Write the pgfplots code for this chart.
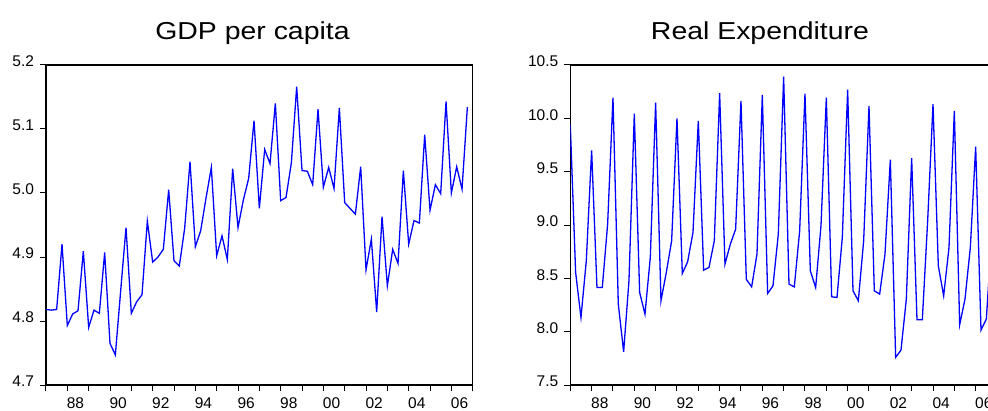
\documentclass[border=0pt]{standalone}
\usepackage{pgfplots}
\pgfplotsset{compat=1.18}
\usepackage{pgfplotstable}
\usepackage{fontspec}
\setmainfont{Liberation Sans}

\pgfplotstableread{
i v
0 4.818
1 4.817
2 4.818
3 4.920
4 4.793
5 4.811
6 4.816
7 4.909
8 4.790
9 4.817
10 4.812
11 4.907
12 4.765
13 4.747
14 4.847
15 4.946
16 4.812
17 4.830
18 4.841
19 4.956
20 4.892
21 4.900
22 4.912
23 5.005
24 4.894
25 4.886
26 4.945
27 5.049
28 4.916
29 4.941
30 4.992
31 5.040
32 4.902
33 4.933
34 4.896
35 5.038
36 4.946
37 4.989
38 5.023
39 5.113
40 4.976
41 5.068
42 5.046
43 5.140
44 4.988
45 4.993
46 5.047
47 5.166
48 5.035
49 5.034
50 5.013
51 5.131
52 5.009
53 5.040
54 5.007
55 5.133
56 4.985
57 4.976
58 4.967
59 5.041
60 4.880
61 4.928
62 4.814
63 4.963
64 4.855
65 4.912
66 4.890
67 5.035
68 4.920
69 4.957
70 4.953
71 5.091
72 4.973
73 5.013
74 4.999
75 5.143
76 5.000
77 5.041
78 5.006
79 5.134
}\gdptable

\pgfplotstableread{
i v
0 9.935
1 8.555
2 8.133
3 8.664
4 9.700
5 8.414
6 8.414
7 9.008
8 10.194
9 8.258
10 7.812
11 8.477
12 10.044
13 8.368
14 8.165
15 8.695
16 10.147
17 8.290
18 8.555
19 8.852
20 10.000
21 8.546
22 8.655
23 8.930
24 9.976
25 8.577
26 8.602
27 8.852
28 10.235
29 8.633
30 8.820
31 8.961
32 10.163
33 8.490
34 8.420
35 8.727
36 10.219
37 8.358
38 8.430
39 8.914
40 10.391
41 8.446
42 8.420
43 8.945
44 10.231
45 8.571
46 8.414
47 8.992
48 10.194
49 8.327
50 8.321
51 8.883
52 10.269
53 8.383
54 8.290
55 8.852
56 10.116
57 8.383
58 8.352
59 8.727
60 9.613
61 7.759
62 7.827
63 8.305
64 9.626
65 8.112
66 8.112
67 9.039
68 10.132
69 8.617
70 8.336
71 8.789
72 10.069
73 8.065
74 8.305
75 8.789
76 9.735
77 8.015
78 8.118
79 8.900
}\exptable

\pgfplotsset{
  evstyle/.style={
    width=426.7pt, height=320pt, scale only axis,
    anchor=south west,
    xmin=1987, xmax=2007,
    tick align=outside,
    xtick pos=bottom, ytick pos=left,
    xtick={1988,1990,...,2006},
    xticklabels={88,90,92,94,96,98,00,02,04,06},
    minor xtick={1987,1989,...,2007},
    major tick length=6pt, minor tick length=6pt,
    tick style={black, line width=1pt},
    minor tick style={black, line width=1pt},
    axis line style={black, line width=1.5pt},
    ticklabel style={font=\fontsize{15.5}{15.5}\selectfont},
    xticklabel style={anchor=north west, xshift=-4pt, yshift=-3pt},
    yticklabel style={xshift=-2.5pt, yshift=3.5pt, /pgf/number format/.cd, fixed, fixed zerofill, precision=1},
    /pgf/number format/assume math mode=true,
    clip=true,
  },
}

\begin{document}
\begin{tikzpicture}
\path[use as bounding box] (0,0) rectangle (988pt,410pt);
\begin{axis}[evstyle, at={(46pt,25pt)}, ymin=4.7, ymax=5.2, ytick={4.7,4.8,...,5.2}]
  \addplot[color={rgb,255:red,0;green,0;blue,255}, line width=1.3pt, mark=none]
    table[x expr=1987+\thisrow{i}/4, y=v] {\gdptable};
\end{axis}
\begin{axis}[evstyle, at={(570.3pt,25pt)}, ymin=7.5, ymax=10.5, ytick={7.5,8.0,...,10.5}]
  \addplot[color={rgb,255:red,0;green,0;blue,255}, line width=1.3pt, mark=none]
    table[x expr=1987+\thisrow{i}/4, y=v] {\exptable};
\end{axis}
\node[anchor=base, transform shape, xscale=1.16, font=\fontsize{24.5}{24.5}\selectfont] at (252.5pt,370pt) {GDP per capita};
\node[anchor=base, transform shape, xscale=1.16, font=\fontsize{24.5}{24.5}\selectfont] at (760pt,370pt) {Real Expenditure};
\end{tikzpicture}
\end{document}
